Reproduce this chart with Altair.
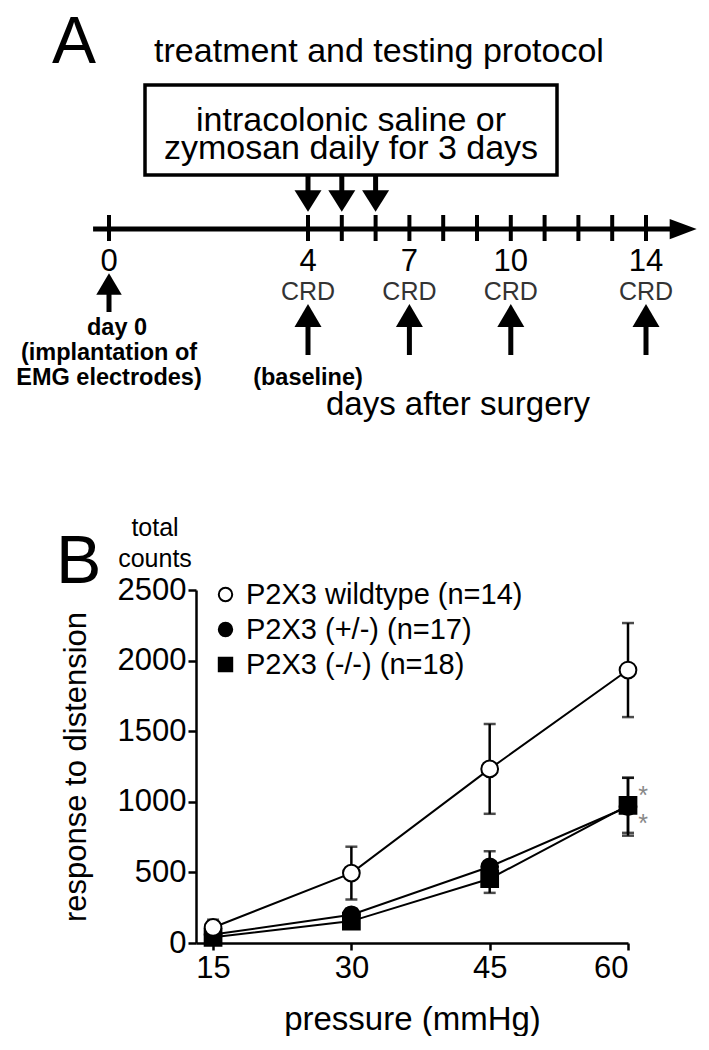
import altair as alt
import pandas as pd

FONT = "Liberation Sans"

# ---------------- Panel A (protocol schematic) ----------------
tick_days = [0, 4, 5, 6, 7, 8, 9, 10, 11, 12, 13, 14]
label_days = [0, 4, 7, 10, 14]
label_text = ["0", "4", "7", "10", "14"]
treatment_days = [4, 5, 6]
crd_days = [4, 7, 10, 14]
surgery_days = [0]
timeline_span = [-0.32, 15.2]
arrow_tip_day = [15.1]
title_a = "treatment and testing protocol"
box_lines = ["intracolonic saline or", "zymosan daily for 3 days"]
surgery_lines = ["day 0", "(implantation of", "EMG electrodes)"]
baseline_text = "(baseline)"
crd_text = "CRD"
xlabel_a = "days after surgery"

# ---------------- Panel B (response curves) ----------------
pressures = [15, 30, 45, 60]
groups = ["P2X3 wildtype (n=14)", "P2X3 (+/-) (n=17)", "P2X3 (-/-) (n=18)"]
wt_mean = [110, 495, 1233, 1933]
wt_sem = [55, 187, 318, 333]
het_mean = [60, 200, 540, 965]
het_sem = [30, 45, 110, 205]
ko_mean = [40, 155, 455, 975]
ko_sem = [25, 35, 100, 195]
sig_y = [1083, 885]

# ---------- helpers ----------
def one(text):
    return pd.DataFrame({"label": [text]})

def text_at(text, x, y, **style):
    return alt.Chart(one(text)).mark_text(baseline="alphabetic", **style).encode(
        text="label:N", x=alt.value(x), y=alt.value(y)
    )

xa = alt.Scale(domain=[0, 4, 14], range=[-87, 112, 450], zero=False, nice=False)
XA = lambda f: alt.X(f, type="quantitative", scale=xa, axis=None)

DOWN = "M-1,-0.8L1,-0.8L0,0.8Z"
UP = "M-1,0.85L1,0.85L0,-0.85Z"
RIGHT = "M-1,-0.75L1,0L-1,0.75Z"

box = alt.Chart(one("box")).mark_rect(fill="white", stroke="black", strokeWidth=3.5).encode(
    x=alt.value(-51), x2=alt.value(361), y=alt.value(77), y2=alt.value(167)
)
box_t1 = text_at(box_lines[0], 155, 123, fontSize=34, align="center")
box_t2 = text_at(box_lines[1], 155, 151, fontSize=34, align="center")
title_t = text_at(title_a, 183, 54, fontSize=34, align="center")
letter_a = text_at("A", -144, 55, fontSize=66, align="left")

tl = pd.DataFrame({"start": [timeline_span[0]], "end": [timeline_span[1]]})
timeline = alt.Chart(tl).mark_rule(strokeWidth=5, color="black").encode(
    x=XA("start"), x2="end:Q", y=alt.value(221)
)
tip = alt.Chart(pd.DataFrame({"day": arrow_tip_day})).mark_point(
    shape=RIGHT, size=729, filled=True, color="black", opacity=1
).encode(x=XA("day"), y=alt.value(221))

ticks = alt.Chart(pd.DataFrame({"day": tick_days})).mark_rule(strokeWidth=4, color="black").encode(
    x=XA("day"), y=alt.value(207), y2=alt.value(233)
)

tdf = pd.DataFrame({"day": treatment_days})
t_shaft = alt.Chart(tdf).mark_rule(strokeWidth=5, color="black").encode(
    x=XA("day"), y=alt.value(167), y2=alt.value(186)
)
t_head = alt.Chart(tdf).mark_point(shape=DOWN, size=729, filled=True, color="black", opacity=1).encode(
    x=XA("day"), y=alt.value(193)
)

day_labels = alt.Chart(pd.DataFrame({"day": label_days, "label": label_text})).mark_text(
    fontSize=31, align="center", baseline="alphabetic"
).encode(x=XA("day"), y=alt.value(263), text="label:N")

cdf = pd.DataFrame({"day": crd_days, "label": [crd_text] * len(crd_days)})
crd_labels = alt.Chart(cdf).mark_text(fontSize=25, align="center", baseline="alphabetic",
                                       color="#333333").encode(
    x=XA("day"), y=alt.value(292), text="label:N"
)
crd_head = alt.Chart(cdf).mark_point(shape=UP, size=729, filled=True, color="black", opacity=1).encode(
    x=XA("day"), y=alt.value(307.5)
)
crd_shaft = alt.Chart(cdf).mark_rule(strokeWidth=5, color="black").encode(
    x=XA("day"), y=alt.value(316), y2=alt.value(347)
)

sdf = pd.DataFrame({"day": surgery_days})
s_head = alt.Chart(sdf).mark_point(shape=UP, size=650, filled=True, color="black", opacity=1).encode(
    x=XA("day"), y=alt.value(276)
)
s_shaft = alt.Chart(sdf).mark_rule(strokeWidth=5, color="black").encode(
    x=XA("day"), y=alt.value(284), y2=alt.value(304)
)

def day_text(text, day, y, dx=0, **style):
    return alt.Chart(pd.DataFrame({"day": [day], "label": [text]})).mark_text(
        align="center", baseline="alphabetic", dx=dx, **style
    ).encode(x=XA("day"), y=alt.value(y), text="label:N")

s_t1 = day_text(surgery_lines[0], surgery_days[0], 327, dx=8, fontSize=23.5, fontWeight="bold")
s_t2 = day_text(surgery_lines[1], surgery_days[0], 352, fontSize=23.5, fontWeight="bold")
s_t3 = day_text(surgery_lines[2], surgery_days[0], 377, fontSize=23.5, fontWeight="bold")
base_t = day_text(baseline_text, crd_days[0], 377, fontSize=23.5, fontWeight="bold")
xlab_a = text_at(xlabel_a, 262, 407, fontSize=33, align="center")

panel_a = alt.layer(
    box, box_t1, box_t2, title_t, letter_a,
    t_shaft, t_head, timeline, tip, ticks,
    day_labels, crd_labels, crd_head, crd_shaft, s_head, s_shaft,
    s_t1, s_t2, s_t3, base_t, xlab_a,
).properties(width=432, height=430)

# ---------------- Panel B ----------------
rows = []
for g, m, s in [(groups[2], ko_mean, ko_sem), (groups[1], het_mean, het_sem), (groups[0], wt_mean, wt_sem)]:
    for p, mv, sv in zip(pressures, m, s):
        rows.append({"group": g, "pressure": p, "mean": mv, "lo": mv - sv, "hi": mv + sv})
df = pd.DataFrame(rows)

xs = alt.Scale(domain=[13.15, 60], zero=False, nice=False)
ys = alt.Scale(domain=[0, 2500], zero=False, nice=False)

X = alt.X("pressure:Q", scale=xs, axis=alt.Axis(
    values=pressures, title="pressure (mmHg)", grid=False, tickSize=7, tickWidth=2.5,
    domainWidth=2.5, domainColor="black", tickColor="black", labelColor="black",
    labelFontSize=31, titleFontSize=33, titleFontWeight="normal", titleColor="black",
    labelPadding=3, titlePadding=20, format="d",
))
Y = alt.Y("mean:Q", scale=ys, axis=alt.Axis(
    values=[0, 500, 1000, 1500, 2000, 2500], title="response to distension", grid=False,
    tickSize=8, tickWidth=2.5, domainWidth=2.5, domainColor="black", tickColor="black",
    labelColor="black", labelFontSize=31, titleFontSize=31, titleFontWeight="normal",
    titleColor="black", labelPadding=2, titlePadding=25, format="d",
))

base_b = alt.Chart(df)
lines = base_b.mark_line(color="black", strokeWidth=2).encode(x=X, y=Y, detail="group:N")
err = base_b.mark_rule(color="black", strokeWidth=2.5).encode(x="pressure:Q", y="lo:Q", y2="hi:Q")
cap_hi = base_b.mark_tick(color="black", orient="horizontal", size=12, thickness=2.5).encode(
    x="pressure:Q", y="hi:Q")
cap_lo = base_b.mark_tick(color="black", orient="horizontal", size=12, thickness=2.5).encode(
    x="pressure:Q", y="lo:Q")
legend = alt.Legend(
    title=None, orient="none", legendX=15, legendY=-10, labelFontSize=29, labelLimit=0,
    symbolSize=180, symbolStrokeWidth=2,
    labelOffset=6, rowPadding=5, padding=0, labelColor="black", labelFont=FONT,
)
points = base_b.mark_point(filled=True, size=280, strokeWidth=2, opacity=1).encode(
    x="pressure:Q", y="mean:Q",
    shape=alt.Shape("group:N", scale=alt.Scale(domain=groups, range=["circle", "circle", "square"]),
                    legend=legend),
    fill=alt.Fill("group:N", scale=alt.Scale(domain=groups, range=["white", "black", "black"]),
                  legend=legend),
    stroke=alt.Stroke("group:N", scale=alt.Scale(domain=groups, range=["black", "black", "black"]),
                      legend=legend),
)
stars = alt.Chart(pd.DataFrame({"pressure": [60] * len(sig_y), "y": sig_y, "label": ["*"] * len(sig_y)})).mark_text(
    fontSize=25, color="#888888", dx=15, dy=14, align="center", baseline="alphabetic"
).encode(x="pressure:Q", y="y:Q", text="label:N")

letter_b = text_at("B", -140, -7, fontSize=68, align="left")
tc1 = text_at("total", -41, -54, fontSize=25, align="center")
tc2 = text_at("counts", -41, -23, fontSize=25, align="center")

panel_b = alt.layer(lines, err, cap_hi, cap_lo, points, stars, letter_b, tc1, tc2).properties(
    width=432, height=353
)

chart = alt.vconcat(panel_a, panel_b, spacing=78).resolve_legend(
    fill="independent", shape="independent", stroke="independent"
).properties(
    padding={"left": 8, "top": 0, "right": 0, "bottom": 0}, background="white"
).configure(font=FONT).configure_view(stroke=None)

chart.save("out.html", embed_options={"renderer": "svg", "actions": False})
